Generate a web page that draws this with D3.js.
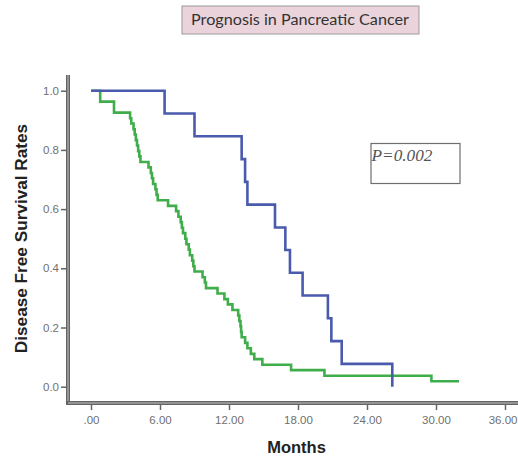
<!DOCTYPE html>
<html>
<head>
<meta charset="utf-8">
<script src="https://cdn.jsdelivr.net/npm/d3@7"></script>
<style>
html,body{margin:0;padding:0;background:#fff;}
svg{display:block;}
</style>
</head>
<body>
<svg id="chart" width="518" height="459"></svg>
<script>
// ---- data ----
const xTicks = [0, 6, 12, 18, 24, 30, 36];
const xTickLabels = [".00", "6.00", "12.00", "18.00", "24.00", "30.00", "36.00"];
const yTicks = [0, 0.2, 0.4, 0.6, 0.8, 1.0];
const yTickLabels = ["0.0", "0.2", "0.4", "0.6", "0.8", "1.0"];

const blueTimes = [0, 6.4, 9.0, 13.1, 13.4, 13.6, 16.0, 16.9, 17.3, 18.4, 20.6, 20.9, 21.8, 26.2];
const blueSurv  = [1, 0.923, 0.846, 0.769, 0.692, 0.615, 0.538, 0.462, 0.385, 0.308, 0.231, 0.154, 0.077, 0];

const greenTimes = [0, 0.8, 2.0, 3.4, 3.5, 3.7, 3.8, 3.9, 4.0, 4.1, 4.2, 4.3, 5.0, 5.2, 5.3, 5.4, 5.6, 5.7, 5.8,
  6.7, 7.4, 7.6, 7.8, 7.9, 8.0, 8.2, 8.3, 8.5, 8.6, 8.8, 8.9, 9.0, 9.7, 9.9, 10.0, 11.0, 11.6, 11.9, 12.3,
  12.8, 12.9, 13.0, 13.05, 13.1, 13.4, 13.6, 13.9, 14.2, 14.9, 17.4, 20.3, 29.6, 32.0];
const greenSurv = [1, 0.963, 0.926, 0.907, 0.889, 0.870, 0.852, 0.833, 0.815, 0.796, 0.778, 0.759, 0.741, 0.722,
  0.704, 0.685, 0.667, 0.648, 0.630, 0.611, 0.593, 0.574, 0.556, 0.537, 0.519, 0.500, 0.481, 0.463, 0.444,
  0.426, 0.407, 0.389, 0.370, 0.352, 0.333, 0.315, 0.296, 0.278, 0.259, 0.241, 0.222, 0.204, 0.185, 0.167,
  0.148, 0.130, 0.111, 0.093, 0.074, 0.056, 0.037, 0.0185, 0.0185];

const titleText = "Prognosis in Pancreatic Cancer";
const pText = "P=0.002";
const xLabel = "Months";
const yLabel = "Disease Free Survival Rates";

// ---- drawing ----
const svg = d3.select("#chart");
const x = d3.scaleLinear().domain([0, 36]).range([91, 505]);
const y = d3.scaleLinear().domain([0, 1]).range([386.7, 90.7]);

const axisColor = "#646464";
const tickTextColor = "#707070";

// Title box
const titleG = svg.append("g");
titleG.append("rect").attr("x", 182).attr("y", 6).attr("width", 237).attr("height", 28)
  .attr("fill", "#ead3da").attr("stroke", "#9a9a9a").attr("stroke-width", 1);
const tt = titleG.append("text").attr("x", 300).attr("y", 25).attr("text-anchor", "middle")
  .attr("font-family", "Lato, 'Open Sans', sans-serif").attr("font-size", 14)
  .attr("fill", "#333").text(titleText);
function fit(sel, target, base) {
  const w = sel.node().getComputedTextLength();
  sel.attr("font-size", base * target / w);
}
fit(tt, 218, 14);

// Axes lines (double gray)
const yAxisX = 68, xAxisY = 403;
svg.append("line").attr("x1", yAxisX).attr("x2", yAxisX).attr("y1", 75).attr("y2", xAxisY + 2)
  .attr("stroke", axisColor).attr("stroke-width", 4);
svg.append("line").attr("x1", yAxisX).attr("x2", yAxisX).attr("y1", 75).attr("y2", xAxisY)
  .attr("stroke", "#c4c4c4").attr("stroke-width", 1);
svg.append("line").attr("x1", yAxisX - 2).attr("x2", 518).attr("y1", xAxisY).attr("y2", xAxisY)
  .attr("stroke", axisColor).attr("stroke-width", 4);
svg.append("line").attr("x1", yAxisX).attr("x2", 518).attr("y1", xAxisY).attr("y2", xAxisY)
  .attr("stroke", "#c4c4c4").attr("stroke-width", 1);

// Y axis ticks via d3 axis
const yAxis = d3.axisLeft(y).tickValues(yTicks).tickSize(6).tickPadding(2)
  .tickFormat((d, i) => yTickLabels[i]);
const gy = svg.append("g").attr("transform", `translate(${yAxisX - 1},0)`).call(yAxis);
gy.select(".domain").remove();
gy.selectAll(".tick line").attr("stroke", axisColor).attr("stroke-width", 1.5);
gy.selectAll(".tick text").attr("font-family", "'Liberation Sans', Arial, sans-serif")
  .attr("font-size", 11.5).attr("fill", tickTextColor);

// X axis ticks
const xAxis = d3.axisBottom(x).tickValues(xTicks).tickSize(6).tickPadding(6)
  .tickFormat((d, i) => xTickLabels[i]);
const gx = svg.append("g").attr("transform", `translate(0,${xAxisY + 1})`).call(xAxis);
gx.select(".domain").remove();
gx.selectAll(".tick line").attr("stroke", axisColor).attr("stroke-width", 1.5);
gx.selectAll(".tick text").attr("font-family", "'Liberation Sans', Arial, sans-serif")
  .attr("font-size", 11.5).attr("fill", tickTextColor);
// keep the last label inside the window edge
gx.selectAll(".tick text").filter((d, i) => i === xTicks.length - 1)
  .attr("text-anchor", "end").attr("x", 518 - 1 - x(36));

// Axis titles
svg.append("text").attr("x", 296.5).attr("y", 453).attr("text-anchor", "middle")
  .attr("font-family", "'Liberation Sans', Arial, sans-serif").attr("font-weight", "bold")
  .attr("font-size", 16.5).attr("fill", "#222").text(xLabel);
svg.append("text").attr("transform", "translate(26.5,238.5) rotate(-90)").attr("text-anchor", "middle")
  .attr("font-family", "'Liberation Sans', Arial, sans-serif").attr("font-weight", "bold")
  .attr("font-size", 17.2).attr("fill", "#222").text(yLabel);

// KM curves
const line = d3.line().x(d => x(d[0])).y(d => y(d[1])).curve(d3.curveStepAfter);
const greenPts = greenTimes.map((t, i) => [t, greenSurv[i]]);
const bluePts = blueTimes.map((t, i) => [t, blueSurv[i]]);

svg.append("path").attr("d", line(greenPts)).attr("fill", "none")
  .attr("stroke", "#3fae4a").attr("stroke-width", 2.6);
svg.append("path").attr("d", line(bluePts)).attr("fill", "none")
  .attr("stroke", "#4a5bad").attr("stroke-width", 2.6);

// P value box
svg.append("rect").attr("x", 371).attr("y", 143.5).attr("width", 89).attr("height", 40)
  .attr("fill", "#fff").attr("stroke", "#6e6e6e").attr("stroke-width", 1.2);
const pt = svg.append("text").attr("x", 371.5).attr("y", 161)
  .attr("font-family", "'Liberation Serif', 'Times New Roman', serif").attr("font-style", "italic")
  .attr("font-size", 15).attr("fill", "#555").text(pText);
fit(pt, 61, 15);
</script>
</body>
</html>
